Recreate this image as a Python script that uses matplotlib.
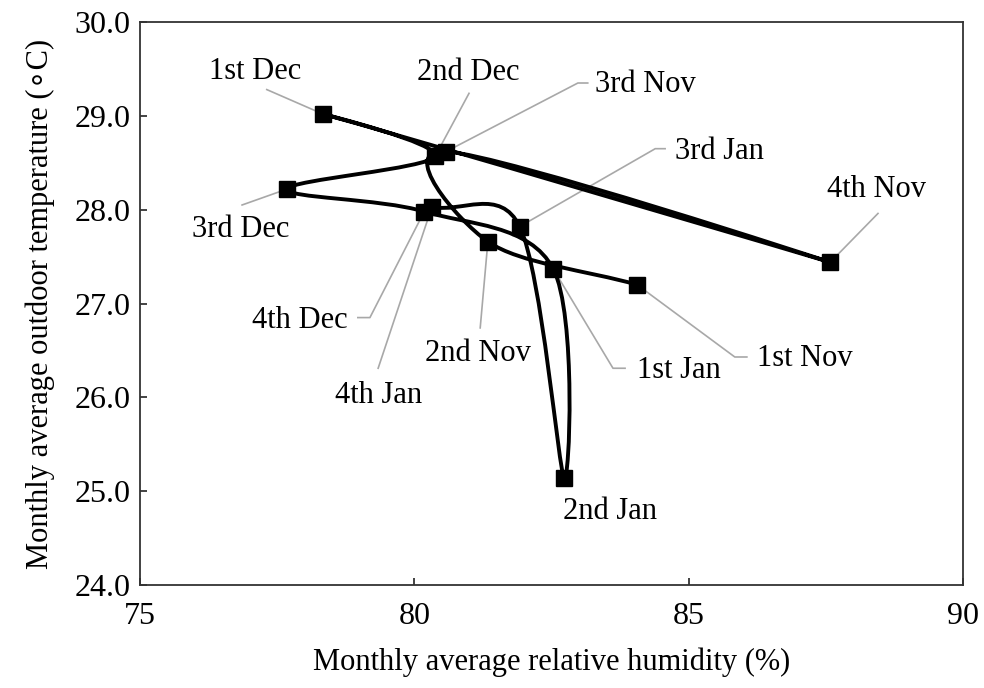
import numpy as np
import matplotlib.pyplot as plt
from matplotlib.path import Path
from matplotlib.patches import PathPatch

# --------------------------------
# DATA (weekly points, in time order)
# --------------------------------

labels = ["1st Nov", "2nd Nov", "3rd Nov", "4th Nov",
          "1st Dec", "2nd Dec", "3rd Dec", "4th Dec",
          "1st Jan", "2nd Jan", "3rd Jan", "4th Jan"]

humidity = [84.06, 81.34, 80.58, 87.58,
            78.33, 80.38, 77.68, 80.18,
            82.53, 82.73, 81.92, 80.32]

temperature = [27.20, 27.66, 28.62, 27.44,
               29.02, 28.57, 28.22, 27.98,
               27.37, 25.14, 27.82, 28.03]

x_ticks = [75, 80, 85, 90]
y_ticks = [24.0, 25.0, 26.0, 27.0, 28.0, 29.0, 30.0]

# --------------------------------
# LABEL LAYOUT (text position, alignment, leader bends)
# --------------------------------

text_pos = {
    "1st Dec": (77.10, 29.47, "center"),
    "2nd Dec": (80.98, 29.46, "center"),
    "3rd Nov": (83.30, 29.33, "left"),
    "3rd Jan": (84.75, 28.615, "left"),
    "4th Nov": (88.43, 28.21, "center"),
    "3rd Dec": (76.84, 27.79, "center"),
    "4th Dec": (78.79, 26.82, "right"),
    "4th Jan": (79.34, 26.02, "center"),
    "2nd Nov": (81.16, 26.47, "center"),
    "1st Jan": (84.06, 26.29, "left"),
    "1st Nov": (86.24, 26.41, "left"),
    "2nd Jan": (83.57, 24.78, "center"),
}

leader_bends = {
    "1st Dec": [(77.31, 29.28)],
    "2nd Dec": [(80.996, 29.24)],
    "3rd Nov": [(83.16, 29.35), (82.98, 29.35)],
    "3rd Jan": [(84.57, 28.65), (84.39, 28.65)],
    "4th Nov": [(88.45, 27.96)],
    "3rd Dec": [(76.86, 28.05)],
    "4th Dec": [(78.97, 26.85), (79.19, 26.85)],
    "4th Jan": [(79.34, 26.31)],
    "2nd Nov": [(81.20, 26.74)],
    "1st Jan": [(83.84, 26.31), (83.62, 26.31)],
    "1st Nov": [(86.06, 26.43), (85.84, 26.43)],
    "2nd Jan": [],
}

plt.rcParams["font.family"] = ["Liberation Serif", "DejaVu Sans"]
plt.rcParams["font.size"] = 22


def smooth_path(pts):
    # Excel-like smoothed line: bezier segments, control offsets 1/6 of the
    # neighbour chord, clamped to half the segment, dropped when they turn back
    n = len(pts)
    verts = [pts[0]]
    codes = [Path.MOVETO]
    for i in range(n - 1):
        p1, p2 = pts[i], pts[i + 1]
        p0 = pts[i - 1] if i > 0 else p1
        p3 = pts[i + 2] if i + 2 < n else p2
        seg = p2 - p1
        d12 = np.hypot(*seg)
        a = (p2 - p0) * (1 / 6 if i > 0 else 1 / 3)
        b = (p3 - p1) * (1 / 6 if i + 2 < n else 1 / 3)
        la, lb = np.hypot(*a), np.hypot(*b)
        if la > d12 / 2:
            a = a * d12 / 2 / la
        if lb > d12 / 2:
            b = b * d12 / 2 / lb
        if la > 0 and np.dot(a, seg) / (np.hypot(*a) * d12) < -0.9:
            a = a * 0
        if lb > 0 and np.dot(b, seg) / (np.hypot(*b) * d12) < -0.9:
            b = b * 0
        verts += [p1 + a, p2 - b, p2]
        codes += [Path.CURVE4] * 3
    return np.array(verts), codes


# --------------------------------
# PLOT
# --------------------------------

fig = plt.figure(figsize=(9.84, 6.88), dpi=100)
ax = fig.add_axes([0.1423, 0.1497, 0.8364, 0.8183])

ax.set_xlim(75, 90)
ax.set_ylim(24, 30)

pts_disp = ax.transData.transform(np.column_stack([humidity, temperature]))
verts, codes = smooth_path(pts_disp)
verts_data = ax.transData.inverted().transform(verts)

ax.add_patch(PathPatch(Path(verts_data, codes), fill=False, lw=2.8,
                       edgecolor="black", joinstyle="round", zorder=2))

ax.plot(humidity, temperature, "s", color="black", ms=11, zorder=3)

for name, hx, ty in zip(labels, humidity, temperature):
    bends = leader_bends[name]
    if bends:
        lx = [b[0] for b in bends] + [hx]
        ly = [b[1] for b in bends] + [ty]
        ax.plot(lx, ly, color="#a8a8a8", lw=1.2, zorder=1)
    tx, tyy, ha = text_pos[name]
    ax.text(tx, tyy, name, ha=ha, va="center", fontsize=22)

ax.set_xticks(x_ticks)
ax.set_yticks(y_ticks)
ax.set_yticklabels([f"{v:.1f}" for v in y_ticks])

ax.tick_params(direction="in", length=5, width=1.2, colors="#222222",
               labelcolor="black", top=False, right=False)
ax.tick_params(axis="x", pad=12, labelsize=23)
ax.tick_params(axis="y", pad=7, labelsize=23)

for s in ax.spines.values():
    s.set_color("#333333")
    s.set_linewidth(1.3)

ax.set_xlabel("Monthly average relative humidity (%)", labelpad=12)
ax.set_ylabel("Monthly average outdoor temperature (\u2218C)", labelpad=14)

fig.savefig("out.png", dpi=100)
